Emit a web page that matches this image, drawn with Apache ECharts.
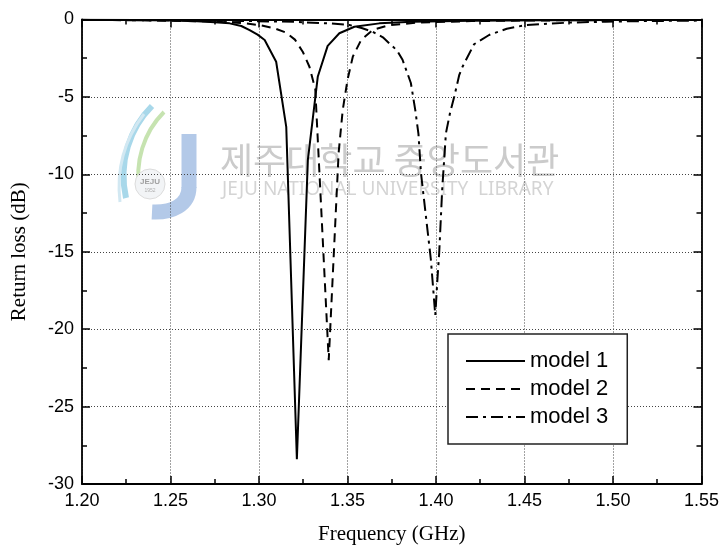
<!DOCTYPE html>
<html><head><meta charset="utf-8">
<script src="https://cdn.jsdelivr.net/npm/echarts@6/dist/echarts.min.js"></script>
<style>html,body{margin:0;padding:0;background:#fff}#c{width:722px;height:554px}</style>
</head><body><div id="c"></div>
<script>
// ---- data ----
const seriesNames = ['model 1', 'model 2', 'model 3'];

const freq1 = [1.200, 1.230, 1.250, 1.265, 1.275, 1.2834, 1.290, 1.2947, 1.2992, 1.3032, 1.3097, 1.3154, 1.3214, 1.3276, 1.3332, 1.3388, 1.3454, 1.3539, 1.368, 1.3866, 1.42, 1.46, 1.50, 1.55];
const rl1   = [-0.02, -0.04, -0.07, -0.11, -0.17, -0.25, -0.42, -0.68, -0.98, -1.32, -2.73, -6.93, -28.4, -9.08, -3.7, -1.7, -0.89, -0.47, -0.25, -0.14, -0.08, -0.05, -0.04, -0.03];

const freq2 = [1.200, 1.240, 1.270, 1.290, 1.3003, 1.3082, 1.3154, 1.3203, 1.3248, 1.3285, 1.3318, 1.3394, 1.3450, 1.3473, 1.3500, 1.3530, 1.3577, 1.3642, 1.3736, 1.3900, 1.4200, 1.4600, 1.5000, 1.5500];
const rl2   = [-0.02, -0.06, -0.12, -0.22, -0.36, -0.55, -0.85, -1.3, -2.1, -3.05, -4.5, -22.0, -8.6, -5.85, -3.9, -2.4, -1.32, -0.68, -0.36, -0.2, -0.1, -0.06, -0.04, -0.03];

const freq3 = [1.200, 1.250, 1.290, 1.320, 1.3398, 1.3511, 1.3580, 1.3642, 1.3700, 1.3736, 1.3780, 1.3811, 1.3858, 1.3883, 1.3901, 1.3915, 1.3943, 1.3971, 1.3996, 1.4008, 1.4018, 1.4035, 1.4056, 1.4080, 1.4103, 1.4131, 1.4150, 1.4215, 1.4300, 1.4400, 1.4507, 1.4750, 1.4958, 1.5200, 1.5500];
const rl3   = [-0.03, -0.05, -0.09, -0.15, -0.25, -0.36, -0.55, -0.79, -1.15, -1.54, -2.0, -2.6, -4.1, -5.85, -7.4, -9.9, -12.7, -15.5, -19.1, -16.8, -15.1, -11.0, -7.35, -6.0, -4.99, -3.6, -3.05, -1.6, -1.0, -0.6, -0.36, -0.2, -0.14, -0.1, -0.07];

const xMin = 1.20, xMax = 1.55, xStep = 0.05;
const yMin = -30, yMax = 0, yStep = 5;
const xTitle = 'Frequency (GHz)';
const yTitle = 'Return loss (dB)';
const wmKorean = '제주대학교 중앙도서관';
const wmEnglish = 'JEJU NATIONAL UNIVERSITY  LIBRARY';

// ---- chart ----
const chart = echarts.init(document.getElementById('c'), null, {renderer: 'canvas'});
const pairs = (xs, ys) => xs.map((x, i) => [x, ys[i]]);
const lineStyles = [
  {color: '#000', width: 2, type: 'solid'},
  {color: '#000', width: 2, type: [9, 6]},
  {color: '#000', width: 2, type: [12, 5, 3, 5]}
];
const datasets = [pairs(freq1, rl1), pairs(freq2, rl2), pairs(freq3, rl3)];

const sansFont = 'Liberation Sans, Arial, sans-serif';
const serifFont = 'Liberation Serif, Times New Roman, serif';

const gridLine = {show: true, lineStyle: {color: '#444', width: 1, type: [1, 2]}};
const axisLine = {show: true, onZero: false, lineStyle: {color: '#000', width: 1.8}};
const tick = {show: true, inside: true, length: 8, lineStyle: {color: '#000', width: 1.5}};
const minorTick = {show: true, splitNumber: 2, length: 5, lineStyle: {color: '#000', width: 1.5}};

const bez = (x1, y1, c1x, c1y, c2x, c2y, x2, y2, color, w) => ({
  type: 'bezierCurve', silent: true, z: 0,
  shape: {x1: x1, y1: y1, cpx1: c1x, cpy1: c1y, cpx2: c2x, cpy2: c2y, x2: x2, y2: y2},
  style: {fill: null, stroke: color, lineWidth: w}
});

chart.setOption({
  animation: false,
  backgroundColor: '#fff',
  grid: {left: 82, right: 19, top: 19.5, bottom: 70, containLabel: false},
  graphic: [
    {type: 'text', silent: true, z: 0, x: 220, y: 160, style: {text: wmKorean, font: '36px "Noto Sans CJK KR"', fill: '#cbcbcb', verticalAlign: 'middle'}},
    {type: 'text', silent: true, z: 0, x: 222, y: 190, style: {text: wmEnglish, font: '19px "Noto Sans", sans-serif', fill: '#d4d4d4', verticalAlign: 'middle'}},
    bez(152, 106, 130, 128, 118, 162, 126, 198, '#a8d8ea', 6),
    bez(164, 112, 144, 132, 134, 162, 140, 192, '#c6e3b0', 4),
    bez(144, 114, 124, 140, 116, 168, 120, 202, '#d2e8f2', 3),
    {type: 'line', silent: true, z: 0, shape: {x1: 189, y1: 134, x2: 189, y2: 188}, style: {stroke: '#b3c9e8', lineWidth: 15}},
    bez(189, 187, 189, 205, 172, 213, 152, 212, '#b3c9e8', 15),
    {type: 'circle', silent: true, z: 0, shape: {cx: 150, cy: 184, r: 15}, style: {fill: '#f2f4f6', stroke: '#dcdcdc', lineWidth: 1}},
    {type: 'text', silent: true, z: 0, x: 150, y: 182, style: {text: 'JEJU', font: 'bold 8px sans-serif', fill: '#a0a0a0', align: 'center', verticalAlign: 'middle'}},
    {type: 'text', silent: true, z: 0, x: 150, y: 191, style: {text: '1952', font: '5px sans-serif', fill: '#b0b0b0', align: 'center', verticalAlign: 'middle'}}
  ],
  legend: {
    left: 448, top: 334, orient: 'vertical',
    itemWidth: 59, itemHeight: 14, itemGap: 6,
    padding: [16, 19, 16, 17],
    borderColor: '#222', borderWidth: 1.5, backgroundColor: '#fff',
    itemStyle: {color: 'rgba(0,0,0,0)', borderColor: 'rgba(0,0,0,0)', borderWidth: 0, opacity: 0},
    textStyle: {fontSize: 22, fontFamily: sansFont, color: '#000'},
    data: seriesNames
  },
  xAxis: [
    {type: 'value', position: 'bottom', min: xMin, max: xMax, interval: xStep,
     name: xTitle, nameLocation: 'middle', nameGap: 40,
     nameTextStyle: {fontFamily: serifFont, fontSize: 21, color: '#000'},
     axisLine: axisLine, axisTick: tick, minorTick: minorTick, splitLine: gridLine,
     axisLabel: {margin: 8, fontSize: 18, fontFamily: sansFont, color: '#000', formatter: v => v.toFixed(2)}},
    {type: 'value', position: 'top', min: xMin, max: xMax, interval: xStep,
     axisLine: axisLine, axisTick: tick, minorTick: minorTick, splitLine: {show: false}, axisLabel: {show: false}}
  ],
  yAxis: [
    {type: 'value', position: 'left', min: yMin, max: yMax, interval: yStep,
     name: yTitle, nameLocation: 'middle', nameGap: 52, nameRotate: 90,
     nameTextStyle: {fontFamily: serifFont, fontSize: 21, color: '#000'},
     axisLine: axisLine, axisTick: tick, minorTick: minorTick, splitLine: gridLine,
     axisLabel: {margin: 8, fontSize: 18, fontFamily: sansFont, color: '#000'}},
    {type: 'value', position: 'right', min: yMin, max: yMax, interval: yStep,
     axisLine: axisLine, axisTick: tick, minorTick: minorTick, splitLine: {show: false}, axisLabel: {show: false}}
  ],
  series: seriesNames.map((n, i) => ({
    type: 'line', name: n, data: datasets[i], symbol: 'none', showSymbol: false,
    lineStyle: lineStyles[i], itemStyle: {color: '#000'}, z: 3, clip: true
  }))
});
</script></body></html>
